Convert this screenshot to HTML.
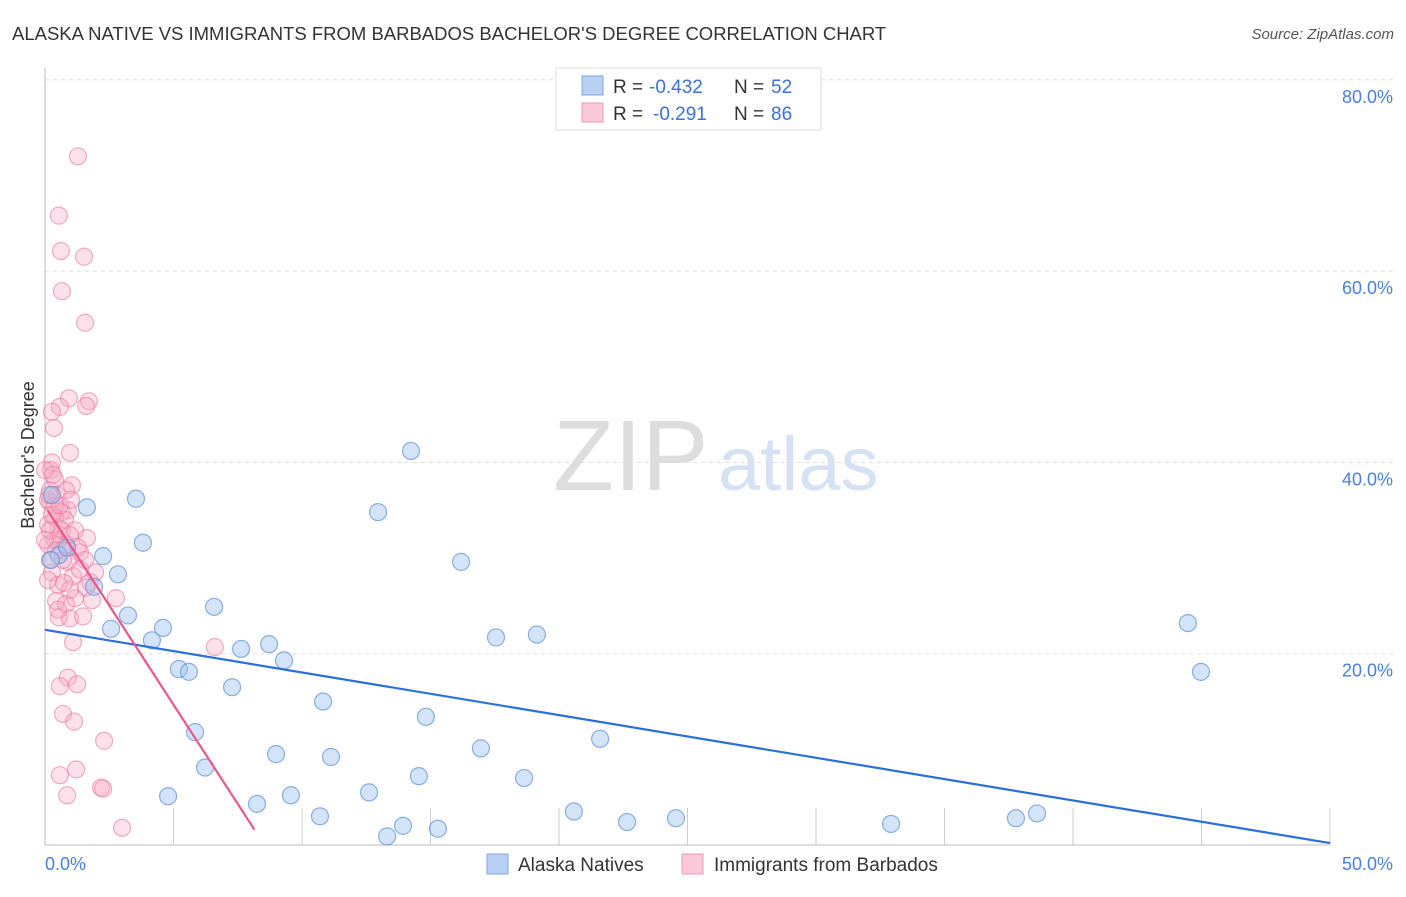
<!DOCTYPE html>
<html><head><meta charset="utf-8"><style>
body{margin:0;background:#fff;font-family:"Liberation Sans",sans-serif;}
svg text{font-family:"Liberation Sans",sans-serif;}
</style></head><body>
<svg id="c" width="1406" height="892">
<text x="12" y="40" font-size="18.5" fill="#333">ALASKA NATIVE VS IMMIGRANTS FROM BARBADOS BACHELOR'S DEGREE CORRELATION CHART</text>
<text x="1394" y="39" font-size="15" fill="#555" font-style="italic" text-anchor="end">Source: ZipAtlas.com</text>
<g>
<text x="553" y="490" font-size="100" fill="#ddd" font-family="Liberation Serif,serif">ZIP</text>
<text x="718" y="490" font-size="76" fill="#d6e2f4">atlas</text>
</g>
<g id="grid"></g>
<g id="axes"></g>
<g id="pts"></g>
<g id="trend"></g>
<text transform="translate(34,455) rotate(-90)" font-size="18" fill="#333" text-anchor="middle">Bachelor's Degree</text>
<g>
<rect x="556" y="68" width="265" height="62" fill="#fff" stroke="#ddd"/>
<rect x="582" y="76" width="21" height="19" fill="#b7d0f4" stroke="#7ea7e0"/>
<rect x="582" y="103" width="21" height="19" fill="#fac8d7" stroke="#ef9ab4"/>
<text x="613" y="93" font-size="19" fill="#333">R =</text>
<text x="649" y="93" font-size="19" fill="#3a72d8">-0.432</text>
<text x="734" y="93" font-size="19" fill="#333">N =</text>
<text x="771" y="93" font-size="19" fill="#3a72d8">52</text>
<text x="613" y="120" font-size="19" fill="#333">R =</text>
<text x="653" y="120" font-size="19" fill="#3a72d8">-0.291</text>
<text x="734" y="120" font-size="19" fill="#333">N =</text>
<text x="771" y="120" font-size="19" fill="#3a72d8">86</text>
</g>
<g>
<rect x="487" y="854" width="21" height="20" fill="#b7d0f4" stroke="#7ea7e0"/>
<text x="518" y="871" font-size="19" fill="#333">Alaska Natives</text>
<rect x="682" y="854" width="21" height="20" fill="#fac8d7" stroke="#ef9ab4"/>
<text x="714" y="871" font-size="19" fill="#333">Immigrants from Barbados</text>
</g>
</svg>
<script>
const yTicks=[20,40,60,80];
const yTickLabels=["20.0%","40.0%","60.0%","80.0%"];
const xTickLabels=["0.0%","50.0%"];
const blueX=[0.27,1.63,3.54,2.26,2.84,3.81,1.91,3.23,2.57,4.16,4.59,6.58,5.21,5.60,7.63,8.72,9.30,7.28,5.84,6.23,4.79,8.25,8.99,9.57,10.82,11.13,10.70,12.61,13.31,13.93,15.29,14.55,14.82,14.24,12.96,16.19,17.55,19.14,16.96,18.64,21.60,20.58,22.65,24.55,32.92,37.78,38.60,44.47,44.98,0.54,0.86,0.23];
const blueY=[36.6,35.3,36.2,30.2,28.3,31.6,27.0,24.0,22.6,21.4,22.7,24.9,18.4,18.1,20.5,21.0,19.3,16.5,11.8,8.1,5.1,4.3,9.5,5.2,15.0,9.2,3.0,5.5,0.9,2.0,1.7,7.2,13.4,41.2,34.8,29.6,21.7,22.0,10.1,7.0,11.1,3.5,2.4,2.8,2.2,2.8,3.3,23.2,18.1,30.3,31.1,29.8];
const pinkX=[1.28,0.54,0.62,1.52,0.66,1.56,0.93,1.71,0.58,1.60,0.35,0.27,0.97,0.27,0.23,0.19,0.39,1.05,0.89,0.66,0.19,0.39,1.63,0.54,0.51,0.12,0.66,1.36,0.89,0.27,1.09,1.75,1.95,1.60,0.82,0.43,1.17,0.54,0.97,1.48,2.76,1.09,6.61,0.89,0.58,1.25,0.70,1.13,2.30,0.58,1.21,0.86,2.18,2.26,3.00,0.12,0.39,0.78,0.12,0.39,0.66,1.28,1.56,0.19,0.51,0.97,0.27,0.47,0.82,0.00,0.19,0.70,1.83,0.12,1.17,0.43,0.16,0.58,0.31,0.82,1.36,1.01,0.51,0.74,0.00,0.97];
const pinkY=[72.0,65.8,62.1,61.5,57.9,54.6,46.7,46.4,45.8,45.9,43.6,45.3,41.0,40.0,39.2,37.1,38.2,37.6,35.0,34.8,35.8,34.2,32.1,33.1,31.9,33.5,30.8,30.6,29.6,28.5,28.1,27.5,28.5,26.9,25.2,25.5,25.8,23.8,23.7,23.9,25.8,21.2,20.7,17.5,16.6,16.8,13.7,12.9,10.9,7.3,7.9,5.2,6.0,5.9,1.8,36.1,35.5,34.0,31.4,31.9,32.9,31.1,29.8,29.8,27.2,26.7,34.5,36.6,37.1,39.2,32.9,29.8,25.6,27.7,32.9,30.8,36.6,35.5,38.7,31.4,28.8,36.1,24.6,27.4,31.9,32.4];
const blueTrend=[[0,22.5],[50,0.2]];
const pinkTrend=[[0.1,35.0],[8.15,1.6]];

const NS="http://www.w3.org/2000/svg";
const X=v=>45+v*25.7, Y=v=>845-v*9.565;
function mk(tag,attrs,parent){const e=document.createElementNS(NS,tag);for(const k in attrs)e.setAttribute(k,attrs[k]);document.getElementById(parent).appendChild(e);return e;}
yTicks.forEach((t,i)=>{
  const l=mk('line',{x1:45,x2:1395,y1:Y(t),y2:Y(t),stroke:'#ddd','stroke-dasharray':'4,4'},'grid');
  
  
  const tx=mk('text',{x:1393,y:Y(t)+23,'font-size':18,fill:'#4a7fd6','text-anchor':'end'},'grid');
  tx.textContent=yTickLabels[i];
  
  
});
mk('line',{x1:45,x2:45,y1:68,y2:845,stroke:'#bbb'},'axes');
mk('line',{x1:45,x2:1330,y1:845,y2:845,stroke:'#bbb'},'axes');
for(let i=1;i<=10;i++){const l=mk('line',{x1:X(i*5),x2:X(i*5),y1:808,y2:845,stroke:'#ccc'},'axes');
  
  }
[0,50].forEach((v,i)=>{const t=mk('text',{x:i?1393:45,y:870,'font-size':18,fill:'#4a7fd6','text-anchor':i?'end':'start'},'axes');t.textContent=xTickLabels[i];
  
  });
pinkX.forEach((v,i)=>{const c=mk('circle',{cx:X(v),cy:Y(pinkY[i]),r:8.5,fill:'rgba(247,170,196,0.35)',stroke:'rgba(236,120,158,0.6)','stroke-width':1.2},'pts');
  
  });
blueX.forEach((v,i)=>{const c=mk('circle',{cx:X(v),cy:Y(blueY[i]),r:8.5,fill:'rgba(160,196,240,0.45)',stroke:'rgba(100,150,220,0.75)','stroke-width':1.2},'pts');
  
  });
const bl=mk('line',{x1:X(blueTrend[0][0]),y1:Y(blueTrend[0][1]),x2:X(blueTrend[1][0]),y2:Y(blueTrend[1][1]),stroke:'#2a6fdb','stroke-width':2.2},'trend');


const pl=mk('line',{x1:X(pinkTrend[0][0]),y1:Y(pinkTrend[0][1]),x2:X(pinkTrend[1][0]),y2:Y(pinkTrend[1][1]),stroke:'#e8588a','stroke-width':2.2},'trend');


</script>
</body></html>
